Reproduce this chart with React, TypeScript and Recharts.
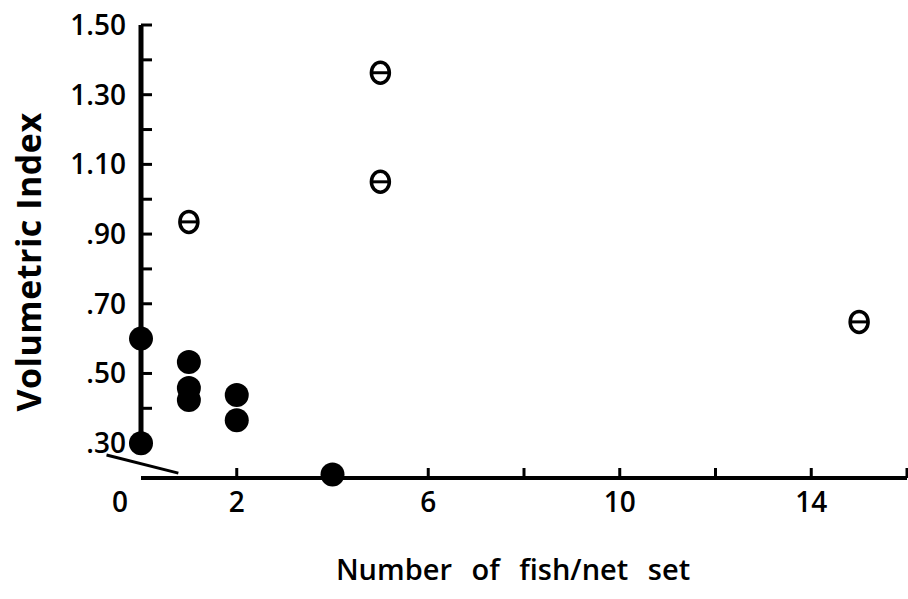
import { ReferenceLine, Scatter, ScatterChart, XAxis, YAxis } from 'recharts'

// fish per net set vs volumetric index
const closedX = [0, 0, 1, 1, 1, 2, 2, 4]
const closedY = [0.6, 0.3, 0.533, 0.458, 0.424, 0.438, 0.366, 0.21]
const openX = [1, 5, 5, 15]
const openY = [0.935, 1.363, 1.05, 0.648]

const xTicks = [0, 2, 4, 6, 8, 10, 12, 14, 16]
const xTickLabels: Record<number, string> = { 0: '0', 2: '2', 6: '6', 10: '10', 14: '14' }
const yTicks = [0.3, 0.4, 0.5, 0.6, 0.7, 0.8, 0.9, 1.0, 1.1, 1.2, 1.3, 1.4, 1.5]
const yTickLabels: Record<string, string> = {
  '0.3': '.30',
  '0.5': '.50',
  '0.7': '.70',
  '0.9': '.90',
  '1.1': '1.10',
  '1.3': '1.30',
  '1.5': '1.50',
}

// broken-axis decoration
const yAxisStart = 0.267
const breakFrom = { x: -0.72, y: 0.266 }
const breakTo = { x: 0.78, y: 0.214 }

const closed = closedX.map((x, i) => ({ x, y: closedY[i] }))
const open = openX.map((x, i) => ({ x, y: openY[i] }))

const font = "'Open Sans', sans-serif"

function XTick({ x, y, payload }: any) {
  const v = payload.value
  const label = xTickLabels[v]
  return (
    <g>
      {v > 0 && <line x1={x} x2={x} y1={y} y2={y - 10} stroke="#000" strokeWidth={3} />}
      {label !== undefined && (
        <text
          x={v === 0 ? x - 21 : x}
          y={y + 34}
          textAnchor="middle"
          fontFamily={font}
          fontSize={28}
          fontWeight={600}
          fill="#000"
        >
          {label}
        </text>
      )}
    </g>
  )
}

function YTick({ x, y, payload }: any) {
  const key = String(Math.round(payload.value * 10) / 10)
  const label = yTickLabels[key]
  return (
    <g>
      <line x1={x} x2={x + 11} y1={y} y2={y} stroke="#000" strokeWidth={3} />
      {label && (
        <text
          x={x - 15}
          y={y + 10}
          textAnchor="end"
          fontFamily={font}
          fontSize={28}
          fontWeight={600}
          fill="#000"
        >
          {label}
        </text>
      )}
    </g>
  )
}

function YLabel({ viewBox }: any) {
  const cx = viewBox.x + 28
  const cy = 262
  return (
    <text
      x={cx}
      y={cy}
      transform={`rotate(-90 ${cx} ${cy})`}
      textAnchor="middle"
      dominantBaseline="central"
      fontFamily={font}
      fontSize={34}
      fontWeight={700}
      letterSpacing={0.5}
      fill="#000"
    >
      Volumetric Index
    </text>
  )
}

function Dot({ cx, cy }: any) {
  return <circle cx={cx} cy={cy} r={12} fill="#000" />
}

function Theta({ cx, cy }: any) {
  return (
    <g>
      <ellipse cx={cx} cy={cy} rx={9} ry={10.5} fill="#fff" stroke="#000" strokeWidth={3.5} />
      <line x1={cx - 9} x2={cx + 9} y1={cy} y2={cy} stroke="#000" strokeWidth={3} />
    </g>
  )
}

export default function App() {
  return (
    <div style={{ background: '#fff' }}>
      <style>{'body{margin:0;background:#fff}'}</style>
      <ScatterChart width={908} height={599} margin={{ top: 25, right: 1, left: 0, bottom: 0 }}>
        <XAxis
          type="number"
          dataKey="x"
          domain={[0, 16]}
          ticks={xTicks}
          interval={0}
          height={121}
          tickSize={0}
          tickMargin={0}
          tick={<XTick />}
          axisLine={{ stroke: '#000', strokeWidth: 4 }}
          label={{
            value: 'Number of fish/net set',
            position: 'insideBottom',
            offset: 19,
            dx: -11,
            style: { fontFamily: font, fontSize: 29, fontWeight: 600, fill: '#000', wordSpacing: 12 },
          }}
        />
        <YAxis
          type="number"
          dataKey="y"
          domain={[0.2, 1.5]}
          ticks={yTicks}
          interval={0}
          width={141}
          tickSize={0}
          tickMargin={0}
          tick={<YTick />}
          axisLine={false}
          label={<YLabel />}
        />
        <ReferenceLine
          segment={[
            { x: 0, y: yAxisStart },
            { x: 0, y: 1.5 },
          ]}
          stroke="#000"
          strokeWidth={5}
          ifOverflow="visible"
        />
        <ReferenceLine
          segment={[breakFrom, breakTo]}
          stroke="#000"
          strokeWidth={3}
          ifOverflow="visible"
        />
        <Scatter data={closed} shape={<Dot />} isAnimationActive={false} />
        <Scatter data={open} shape={<Theta />} isAnimationActive={false} />
      </ScatterChart>
    </div>
  )
}
